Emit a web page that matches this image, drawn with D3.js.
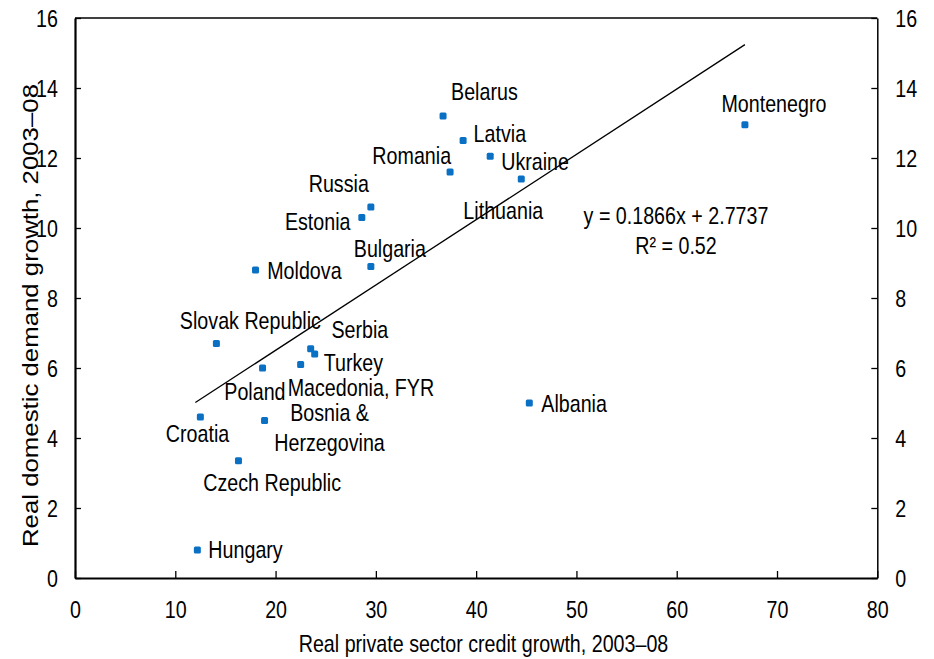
<!DOCTYPE html>
<html>
<head>
<meta charset="utf-8">
<script src="https://cdn.jsdelivr.net/npm/d3@7"></script>
<style>
  html, body { margin: 0; padding: 0; background: #fff; }
  svg { display: block; }
  text { font-family: "Liberation Sans", Arial, sans-serif; fill: #000; }
</style>
</head>
<body>
<svg id="chart" width="934" height="659"></svg>
<script>
// ---------- data ----------
const countries = ["Belarus","Latvia","Romania","Ukraine","Lithuania","Russia","Estonia","Bulgaria","Moldova",
  "Montenegro","Slovak Republic","Serbia","Turkey","Poland","Macedonia, FYR","Bosnia &\nHerzegovina",
  "Croatia","Czech Republic","Hungary","Albania"];
const creditGrowth = [36.7, 38.7, 37.4, 41.4, 44.5, 29.5, 28.6, 29.5, 18.0,
  66.8, 14.1, 23.5, 23.9, 18.7, 22.5, 18.9, 12.5, 16.3, 12.2, 45.3];
const demandGrowth = [13.2, 12.5, 11.6, 12.05, 11.4, 10.6, 10.3, 8.9, 8.8,
  12.95, 6.7, 6.55, 6.4, 6.0, 6.1, 4.5, 4.6, 3.35, 0.8, 5.0];
const trendSlope = 0.1866;
const trendIntercept = 2.7737;
const equationLines = ["y = 0.1866x + 2.7737", "R² = 0.52"];
const xTicks = [0, 10, 20, 30, 40, 50, 60, 70, 80];
const yTicks = [0, 2, 4, 6, 8, 10, 12, 14, 16];
const xTitle = "Real private sector credit growth, 2003–08";
const yTitle = "Real domestic demand growth, 2003–08";

// label placement (pixel offsets from each point), kept apart from the data
const labelPlacement = {
  "Belarus": [8, -16, "start"], "Latvia": [10.5, 1.7, "start"], "Romania": [1, -7.7, "end"],
  "Ukraine": [11, 13.3, "start"], "Lithuania": [-18, 40, "middle"], "Russia": [-2, -14.7, "end"],
  "Estonia": [-11.3, 12.7, "end"], "Bulgaria": [19, -9.7, "middle"], "Moldova": [11.7, 8.7, "start"],
  "Montenegro": [29, -13, "middle"], "Slovak Republic": [34, -15, "middle"], "Serbia": [20.7, -10.4, "start"],
  "Turkey": [9, 16.7, "start"], "Poland": [23, 31.7, "end"], "Macedonia, FYR": [-13, 31.5, "start"],
  "Bosnia &\nHerzegovina": [65, 0, "middle"], "Croatia": [-2.8, 25, "middle"],
  "Czech Republic": [33.7, 30.4, "middle"], "Hungary": [11, 7.6, "start"], "Albania": [12, 9, "start"]
};

// ---------- layout ----------
const svg = d3.select("#chart");
const FS = 24, SX = 0.82;   // font size and horizontal condensing of the reference
const pLeft = 75, pRight = 877.3, pTop = 18, pBottom = 578;
const x = d3.scaleLinear().domain([0, 80]).range([pLeft, pRight]);
const y = d3.scaleLinear().domain([0, 16]).range([pBottom, pTop]);

function condense(sel, px, py) {
  sel.attr("x", 0).attr("y", 0)
     .attr("transform", `translate(${px},${py}) scale(${SX},1)`);
}

// top frame line
svg.append("line").attr("x1", pLeft).attr("x2", pRight).attr("y1", pTop).attr("y2", pTop)
  .attr("stroke", "#000").attr("stroke-width", 1.5);

// axes
const gL = svg.append("g").attr("transform", `translate(${pLeft},0)`)
  .call(d3.axisLeft(y).tickValues(yTicks).tickSize(-6).tickSizeOuter(0).tickFormat(d3.format("d")));
const gR = svg.append("g").attr("transform", `translate(${pRight},0)`)
  .call(d3.axisRight(y).tickValues(yTicks).tickSize(-6).tickSizeOuter(0).tickFormat(d3.format("d")));
const gB = svg.append("g").attr("transform", `translate(0,${pBottom})`)
  .call(d3.axisBottom(x).tickValues(xTicks).tickSize(-7).tickSizeOuter(0).tickFormat(d3.format("d")));

[gL, gR, gB].forEach(g => {
  g.attr("font-family", null).attr("font-size", null);
  g.selectAll(".tick line").attr("stroke", "#000").attr("stroke-width", 1.3);
  g.selectAll("text").style("font-size", FS + "px").attr("fill", "#000");
});
gL.select(".domain").attr("stroke", "#000").attr("stroke-width", 2.2);
gB.select(".domain").attr("stroke", "#000").attr("stroke-width", 2.2);
gR.select(".domain").attr("stroke", "#000").attr("stroke-width", 1.5);

gL.selectAll(".tick text").attr("dy", "0.36em").attr("text-anchor", "end")
  .each(function() { condense(d3.select(this), -17, 0); });
gR.selectAll(".tick text").attr("dy", "0.36em").attr("text-anchor", "start")
  .each(function() { condense(d3.select(this), 18, 0); });
gB.selectAll(".tick text").attr("dy", "0").attr("text-anchor", "middle")
  .each(function() { condense(d3.select(this), 0, 39.5); });

// axis titles
svg.append("text").text(xTitle).style("font-size", FS + "px").attr("text-anchor", "middle")
  .call(s => condense(s, 483.5, 652));
svg.append("text").text(yTitle).style("font-size", "25.8px").attr("text-anchor", "start")
  .attr("transform", `translate(38,547) scale(${SX},1) rotate(-90)`);

// trend line across data range
const xr = d3.extent(creditGrowth);
const line = d3.line().x(d => x(d)).y(d => y(trendSlope * d + trendIntercept));
svg.append("path").datum([xr[0] - 0.2, xr[1]]).attr("d", line)
  .attr("fill", "none").attr("stroke", "#000").attr("stroke-width", 1.3);

// points
const pts = countries.map((c, i) => ({ name: c, cx: creditGrowth[i], cy: demandGrowth[i] }));
svg.append("g").selectAll("rect").data(pts).join("rect")
  .attr("x", d => x(d.cx) - 3.5).attr("y", d => y(d.cy) - 3.5)
  .attr("width", 7).attr("height", 7).attr("rx", 1.5)
  .attr("fill", "#0a70c4");

// point labels
const lg = svg.append("g");
pts.forEach(d => {
  const [dx, dy, anchor] = labelPlacement[d.name];
  const lines = d.name.split("\n");
  const t = lg.append("text").style("font-size", FS + "px").attr("text-anchor", anchor)
    .attr("transform", `translate(${x(d.cx) + dx},${y(d.cy) + dy}) scale(${SX},1)`);
  lines.forEach((ln, k) => t.append("tspan").attr("x", 0).attr("y", k * 30.5).text(ln));
});

// equation
const eq = svg.append("text").style("font-size", FS + "px").attr("text-anchor", "middle")
  .attr("transform", `translate(676,224) scale(${SX},1)`);
equationLines.forEach((ln, k) => eq.append("tspan").attr("x", 0).attr("y", k * 30).text(ln));
</script>
</body>
</html>
